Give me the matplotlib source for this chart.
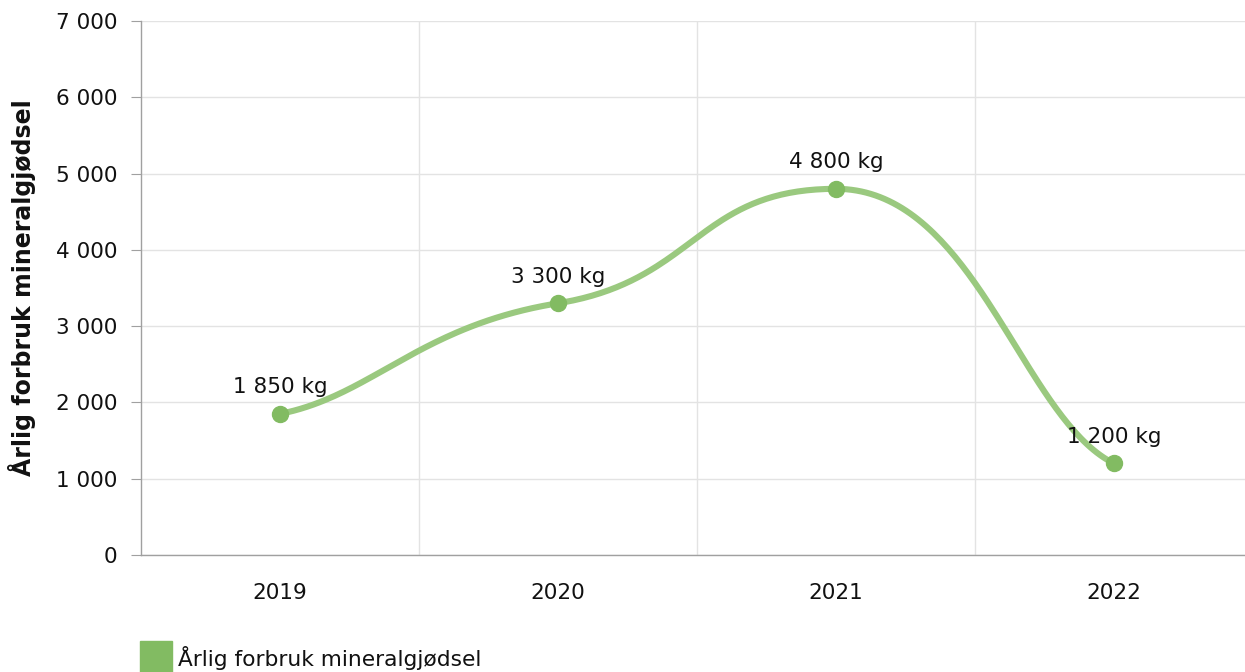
import numpy as np
import matplotlib.pyplot as plt
from matplotlib.patches import Rectangle

# data
years = ['2019', '2020', '2021', '2022']
values = [1850, 3300, 4800, 1200]
point_labels = ['1 850 kg', '3 300 kg', '4 800 kg', '1 200 kg']
y_ticks = [0, 1000, 2000, 3000, 4000, 5000, 6000, 7000]
y_ticklabels = ['0', '1 000', '2 000', '3 000', '4 000', '5 000', '6 000', '7 000']
series_name = 'Årlig forbruk mineralgjødsel'

line_color = '#9ac97f'
marker_color = '#82bb62'
grid_color = '#e3e3e3'
axis_color = '#a0a0a0'
text_color = '#111111'


def smooth_curve(xs, ys, n=80):
    # bezier spline: flat at peaks, long handles on inner points, short at the ends
    xs = np.asarray(xs, float)
    ys = np.asarray(ys, float)
    sec = np.diff(ys) / np.diff(xs)
    npts = len(xs)
    m = np.zeros(npts)
    d = np.zeros(npts)
    m[0], d[0] = 0.5 * sec[0], 1 / 3
    m[-1], d[-1] = 0.5 * sec[-1], 1 / 3
    for i in range(1, npts - 1):
        d[i] = 0.5
        if sec[i - 1] * sec[i] > 0:
            m[i] = 0.4 * (sec[i - 1] + sec[i]) / 2
    t = np.linspace(0, 1, n)[:, None]
    out = []
    for i in range(npts - 1):
        h = xs[i + 1] - xs[i]
        p0 = np.array([xs[i], ys[i]])
        p3 = np.array([xs[i + 1], ys[i + 1]])
        c1 = p0 + np.array([d[i] * h, m[i] * d[i] * h])
        c2 = p3 - np.array([d[i + 1] * h, m[i + 1] * d[i + 1] * h])
        b = (1 - t) ** 3 * p0 + 3 * (1 - t) ** 2 * t * c1 + 3 * (1 - t) * t ** 2 * c2 + t ** 3 * p3
        out.append(b)
    out = np.vstack(out)
    return out[:, 0], out[:, 1]


fig = plt.figure(figsize=(12.45, 6.72), dpi=100)
plt.rcParams['font.family'] = ['DejaVu Sans']

left_px, right_px, top_px, bottom_px = 141, 1253, 21, 555
ax = fig.add_axes([left_px / 1245, 1 - bottom_px / 672,
                   (right_px - left_px) / 1245, (bottom_px - top_px) / 672])

x = np.arange(len(years))
sx, sy = smooth_curve(x, values)
ax.plot(sx, sy, color=line_color, lw=4.4, solid_capstyle='round', zorder=3, clip_on=False)
ax.plot(x, values, 'o', color=marker_color, ms=11.5, zorder=4, clip_on=False)

for xi, v, lab in zip(x, values, point_labels):
    ax.annotate(lab, (xi, v), xytext=(0, 19), textcoords='offset points',
                ha='center', va='center', fontsize=15.5, color=text_color, zorder=5)

ax.set_xlim(-0.5, 3.5)
ax.set_ylim(0, 7000)
ax.set_yticks(y_ticks)
ax.set_yticklabels(y_ticklabels, fontsize=15.5)
ax.set_xticks(x)
ax.set_xticklabels(years, fontsize=15.5)
ax.set_xticks([0.5, 1.5, 2.5], minor=True)

ax.grid(axis='y', color=grid_color, lw=1)
ax.grid(axis='x', which='minor', color=grid_color, lw=1)
ax.set_axisbelow(True)

for s in ['top', 'right']:
    ax.spines[s].set_visible(False)
for s in ['left', 'bottom']:
    ax.spines[s].set_color(axis_color)
    ax.spines[s].set_linewidth(1)

ax.tick_params(axis='y', length=7, color=axis_color, pad=10, labelcolor=text_color)
ax.tick_params(axis='x', which='major', length=0, pad=20, labelcolor=text_color)
ax.tick_params(axis='x', which='minor', length=0)

# y axis title
fig.text(22 / 1245, 1 - 288 / 672, series_name, fontsize=17, fontweight='bold',
         rotation=90, ha='center', va='center', color=text_color)

# legend
fig.patches.append(Rectangle((140 / 1245, 0), 32 / 1245, 31 / 672,
                             transform=fig.transFigure, color=marker_color))
fig.text(178 / 1245, 1 - 658 / 672, series_name, fontsize=15.7, va='center',
         ha='left', color=text_color)

fig.savefig('out.png', dpi=100)
